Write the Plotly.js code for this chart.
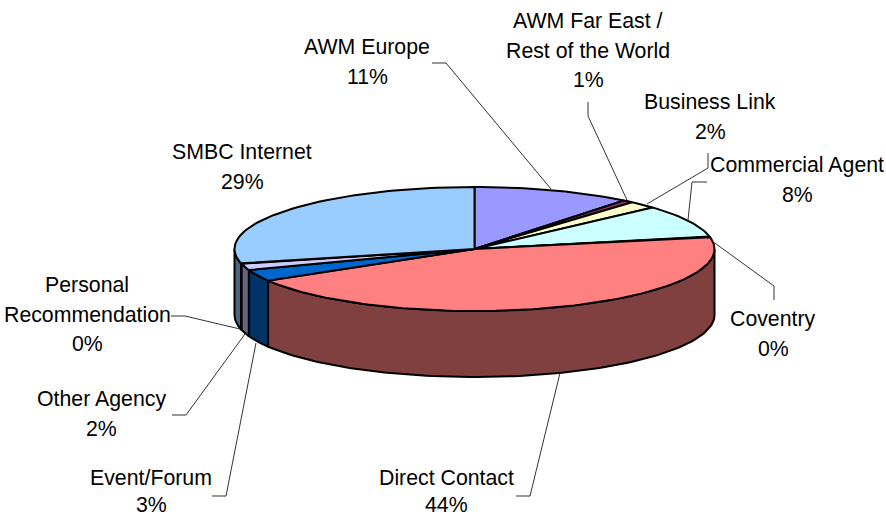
<!DOCTYPE html>
<html><head><meta charset="utf-8">
<script src="https://cdn.plot.ly/plotly-3.0.1.min.js"></script>
<style>html,body{margin:0;padding:0;background:#fff;overflow:hidden}</style>
</head><body><div id="chart" style="width:886px;height:517px"></div>
<script>
// Data, clockwise from 12 o'clock (shares in percent)
const categories = ["AWM Europe","AWM Far East / Rest of the World","Business Link","Commercial Agent","Coventry","Direct Contact","Event/Forum","Other Agency","Personal Recommendation","SMBC Internet"];
const shares = [10.7,0.7,1.9,8.49,0.2,44.49,3.0,1.7,0.1,28.72];
const shareLabels = ["11%","1%","2%","8%","0%","44%","3%","2%","0%","29%"];
const topColors = ["#9999FF","#993366","#FFFFCC","#CCFFFF","#660066","#FF8080","#0066CC","#CCCCFF","#000080","#99CCFF"];
const sideColors = ["#4D4D80","#4D1A33","#808066","#668080","#330033","#804040","#003366","#666680","#000040","#4D6680"];
const labelLines = [["AWM Europe"],["AWM Far East /","Rest of the World"],["Business Link"],["Commercial Agent"],["Coventry"],["Direct Contact"],["Event/Forum"],["Other Agency"],["Personal","Recommendation"],["SMBC Internet"]];
// Layout of labels: centre x, first-line y (page pixels)
const labelX = [367,588,710,797,773,446,151,101,87,242];
const labelY = [47,21,102,165,319,478,478,399,285,152];
// Leader lines as page-pixel paths
const leaders = [
 [[432,63],[446,63],[551,189]],
 [[588,102],[588,116],[627,200]],
 [[708,153],[708,168],[647,204]],
 [[707,182],[692,182],[688,220]],
 [[712,241],[774,286],[774,300]],
 [[560,373],[530,496],[516,496]],
 [[212,496],[226,496],[256,343]],
 [[172,415],[186,415],[245,334]],
 [[171,316],[185,316],[240,329]]
];
// Pie geometry
const CX=474.5, CY=249, RX=240, RY=62, DEPTH=66, LINE_H=29.5, MAX_TEXT_Y=505;
const pt=(deg,dy=0)=>{const a=deg*Math.PI/180;return [CX+RX*Math.sin(a),CY-RY*Math.cos(a)+dy];};
const arc=(a,b,dy=0)=>{const out=[];const n=Math.max(2,Math.ceil(Math.abs(b-a)/1.5));for(let i=0;i<=n;i++)out.push(pt(a+(b-a)*i/n,dy));return out;};
const traces=[];
const poly=(pts,fill,name)=>traces.push({type:'scatter',mode:'lines',x:pts.map(p=>p[0]),y:pts.map(p=>p[1]),fill:'toself',fillcolor:fill,line:{color:'#000',width:2,shape:'linear'},hoverinfo:'text',text:name,showlegend:false,name:name});
let acc=0; const starts=[],ends=[];
shares.forEach(v=>{starts.push(acc*3.6);acc+=v;ends.push(acc*3.6);});
// front wall, visible part of each slice only (angles 90..270)
categories.forEach((c,i)=>{
  const a=Math.max(starts[i],90), b=Math.min(ends[i],270);
  if(b>a){const top=arc(a,b),bot=arc(b,a,DEPTH);const p=top.concat(bot);p.push(top[0]);poly(p,sideColors[i],c);}
});
// top face
categories.forEach((c,i)=>{
  const p=[[CX,CY]].concat(arc(starts[i],ends[i]));p.push([CX,CY]);poly(p,topColors[i],c);
});
const shapes=leaders.map(l=>({type:'path',xref:'x',yref:'y',path:'M'+l.map(p=>p.join(',')).join('L'),line:{color:'#333',width:1}}));
const annotations=[];
categories.forEach((c,i)=>{
  labelLines[i].concat([shareLabels[i]]).forEach((t,j)=>annotations.push({
    x:labelX[i],y:Math.min(labelY[i]+j*LINE_H,MAX_TEXT_Y),xref:'x',yref:'y',text:t,showarrow:false,xanchor:'center',yanchor:'middle',
    borderpad:0,borderwidth:0,font:{family:'Liberation Sans, Arial, sans-serif',size:21.3,color:'#000'}}));
});
Plotly.newPlot('chart',traces,{
  width:886,height:517,margin:{l:0,r:0,t:0,b:0},paper_bgcolor:'#fff',plot_bgcolor:'#fff',showlegend:false,
  xaxis:{range:[0,886],visible:false,fixedrange:true},
  yaxis:{range:[517,0],visible:false,fixedrange:true},
  shapes,annotations
},{displayModeBar:false,staticPlot:true});
</script></body></html>
